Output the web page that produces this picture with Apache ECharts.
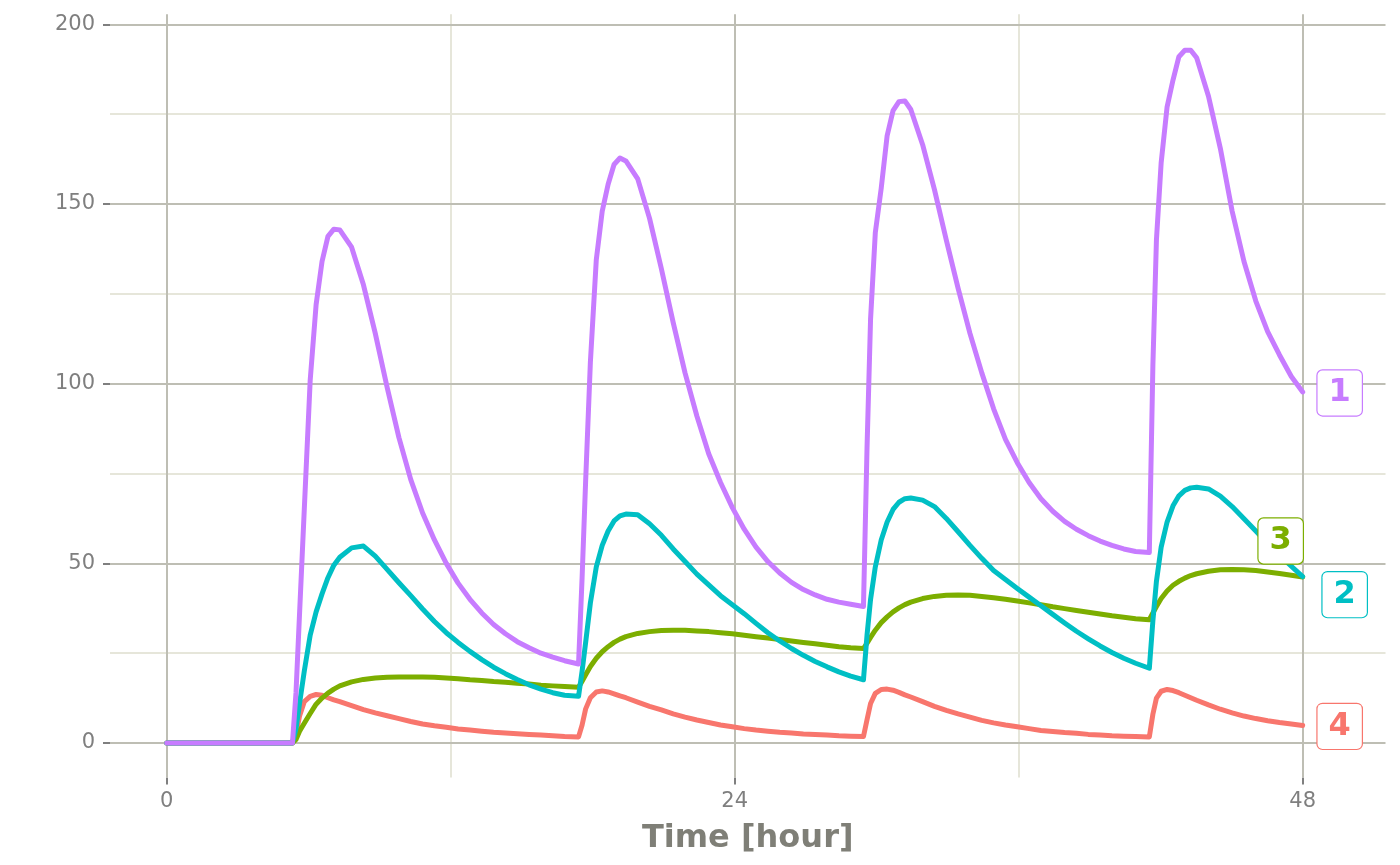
<!DOCTYPE html>
<html>
<head>
<meta charset="utf-8">
<script src="https://cdn.jsdelivr.net/npm/echarts@6/dist/echarts.min.js"></script>
<style>
html,body{margin:0;padding:0;background:#fff;}
#chart{width:1400px;height:865px;}
</style>
</head>
<body>
<div id="chart"></div>
<script>
// ---- data ----
const SERIES_NAMES = ['1', '2', '3', '4'];
const DOSES = [5.31, 17.4, 29.44, 41.52];            // hours
const OFFSETS = [0, 0.15, 0.3, 0.5, 0.75, 1, 1.25, 1.5, 1.75, 2, 2.5, 3, 3.5, 4, 4.5, 5, 5.5, 6, 6.5, 7, 7.5, 8, 8.5, 9, 9.5, 10, 10.5, 11, 11.5];
const T_END = 48;
const X_TICKS = [0, 24, 48];
const X_MINOR = [12, 36];
const Y_TICKS = [0, 50, 100, 150, 200];
const Y_MINOR = [25, 75, 125, 175];

// values: t=0, cycle1 (29), cycle2 (29), cycle3 (29), cycle4 (18), t=48
const S1 = [0,
  0, 14, 36, 65, 101, 122, 134, 141, 143, 142.8, 138, 127.5, 114, 99, 85, 73.3, 64, 56.5, 50, 44.5, 40, 36.2, 33, 30.4, 28.2, 26.5, 25, 23.9, 22.9,
  22, 46, 73, 106, 134.5, 148, 155.5, 161, 162.8, 162, 157, 146, 132, 117, 103, 91, 80.5, 72.5, 65.5, 59.5, 54.5, 50.5, 47.3, 44.7, 42.7, 41.2, 40, 39.2, 38.6,
  38, 82, 118, 142, 154.4, 169, 176, 178.5, 178.7, 176.3, 166.5, 154, 140, 126.5, 114, 103, 93, 84.5, 78, 72.5, 68, 64.5, 61.7, 59.5, 57.7, 56.2, 55, 54, 53.3,
  53, 105, 140, 161.5, 177, 184.5, 191, 192.8, 192.8, 190.7, 180, 165.5, 148, 134, 123, 114.5, 108, 102,
  97.7];
const S2 = [0,
  0, 4, 11, 20, 30, 36.5, 41.5, 46, 49.5, 51.7, 54.3, 54.8, 52, 48.3, 44.6, 41, 37.3, 33.8, 30.7, 28, 25.5, 23.2, 21.1, 19.3, 17.7, 16.2, 15, 14, 13.3,
  13, 20, 28, 39, 49, 55, 59, 61.8, 63.2, 63.7, 63.5, 61, 57.8, 54, 50.5, 47, 44, 41, 38.5, 36, 33.3, 30.7, 28.4, 26.3, 24.4, 22.7, 21.2, 19.8, 18.6,
  17.6, 30, 40, 49, 56.5, 61.5, 65, 67, 68, 68.2, 67.6, 65.8, 62.5, 58.8, 55, 51.4, 48, 45.5, 43, 40.6, 38.2, 35.8, 33.4, 31.1, 29, 27, 25.2, 23.6, 22.2,
  20.8, 34, 45, 54.5, 61.5, 66, 68.8, 70.3, 71, 71.2, 70.7, 68.7, 65.8, 62.4, 59, 55.5, 52.3, 49.2,
  46.3];
const S3 = [0,
  0, 1, 3.3, 5.5, 8.2, 10.8, 12.5, 13.9, 15, 15.9, 17, 17.7, 18.1, 18.3, 18.4, 18.4, 18.4, 18.3, 18.1, 17.9, 17.6, 17.4, 17.1, 16.9, 16.6, 16.4, 16.1, 15.9, 15.7,
  15.5, 17.2, 19, 21.3, 23.6, 25.4, 26.8, 28, 28.9, 29.6, 30.5, 31, 31.3, 31.4, 31.35, 31.2, 31, 30.7, 30.4, 30, 29.6, 29.2, 28.8, 28.4, 28, 27.6, 27.2, 26.8, 26.5,
  26.3, 27.8, 29.4, 31.4, 33.5, 35.1, 36.5, 37.6, 38.5, 39.2, 40.2, 40.8, 41.1, 41.2, 41.1, 40.8, 40.4, 40, 39.5, 39, 38.5, 37.9, 37.4, 36.9, 36.4, 35.9, 35.4, 35, 34.6,
  34.3, 36.2, 38, 40.2, 42.3, 43.9, 45, 45.9, 46.6, 47.1, 47.8, 48.2, 48.3, 48.2, 48, 47.6, 47.2, 46.7,
  46.2];
const S4 = [0,
  0, 2.5, 7.5, 11.5, 13, 13.5, 13.3, 12.6, 12, 11.5, 10.4, 9.3, 8.4, 7.6, 6.8, 6, 5.3, 4.8, 4.4, 3.9, 3.6, 3.3, 3, 2.8, 2.6, 2.4, 2.2, 2, 1.8,
  1.7, 5, 9.5, 12.6, 14.2, 14.5, 14.2, 13.7, 13.1, 12.6, 11.4, 10.2, 9.2, 8.1, 7.2, 6.4, 5.7, 5, 4.5, 4, 3.6, 3.3, 3, 2.8, 2.5, 2.4, 2.2, 2, 1.9,
  1.8, 6.5, 11, 13.8, 14.9, 15, 14.7, 14.1, 13.4, 12.8, 11.5, 10.2, 9.1, 8.1, 7.2, 6.3, 5.6, 5, 4.5, 4, 3.5, 3.2, 2.9, 2.7, 2.4, 2.2, 2, 1.9, 1.8,
  1.7, 8, 12.5, 14.4, 14.9, 14.6, 14, 13.3, 12.6, 11.9, 10.6, 9.4, 8.4, 7.5, 6.8, 6.2, 5.7, 5.3,
  4.9];

// ---- build sample times ----
const TIMES = [0];
DOSES.forEach((d, i) => {
  const next = i + 1 < DOSES.length ? DOSES[i + 1] : T_END;
  OFFSETS.forEach(o => { const t = +(d + o).toFixed(3); if (t < next) TIMES.push(t); });
});
TIMES.push(T_END);

// ---- styles ----
const COLORS = ['#C77CFF', '#00BFC4', '#7CAE00', '#F8766D'];
const LABEL_OFFSETS = [[37, 1], [42, 18], [-22, -36], [37, 1]];
const MAJOR = '#BEBEB4';
const MINOR = '#E6E6DA';
const TEXT = '#7F7F7F';
const FONT = 'DejaVu Sans';

const VALUES = [S1, S2, S3, S4];
const lineSeries = VALUES.map((vals, i) => ({
  name: SERIES_NAMES[i],
  type: 'line',
  data: TIMES.map((t, k) => [t, vals[k]]),
  showSymbol: false,
  symbol: 'none',
  z: 10 - i,
  lineStyle: { color: COLORS[i], width: 5, cap: 'round', join: 'round', opacity: 1 },
  itemStyle: { color: COLORS[i] },
  silent: true
}));
// draw order: 4 first (bottom) ... 1 last (top)
lineSeries.reverse();

const gridLines = [];
X_MINOR.forEach(v => gridLines.push({ xAxis: v, lineStyle: { color: MINOR, width: 2, type: 'solid' } }));
Y_MINOR.forEach(v => gridLines.push({ yAxis: v, lineStyle: { color: MINOR, width: 2, type: 'solid' } }));
X_TICKS.forEach(v => gridLines.push({ xAxis: v, lineStyle: { color: MAJOR, width: 2, type: 'solid' } }));
Y_TICKS.forEach(v => gridLines.push({ yAxis: v, lineStyle: { color: MAJOR, width: 2, type: 'solid' } }));

const gridSeries = {
  type: 'line', data: [], z: 1, silent: true,
  markLine: { silent: true, symbol: ['none', 'none'], z: 1, animation: false, label: { show: false }, data: gridLines }
};

const labelSeries = {
  type: 'scatter', z: 20, silent: true, symbolSize: 0,
  itemStyle: { opacity: 1 },
  data: VALUES.map((vals, i) => ({
    value: [T_END, vals[vals.length - 1]],
    name: SERIES_NAMES[i],
    itemStyle: { color: COLORS[i], opacity: 1 },
    label: {
      show: true, position: 'inside', formatter: SERIES_NAMES[i], opacity: 1,
      offset: LABEL_OFFSETS[i], color: COLORS[i], borderColor: COLORS[i],
      borderWidth: 1.2, borderRadius: 5, backgroundColor: '#ffffff',
      padding: [6, 11, 5, 11], fontSize: 32, lineHeight: 34, fontWeight: 'bold', fontFamily: FONT,
      align: 'center', verticalAlign: 'middle'
    }
  }))
};

const chart = echarts.init(document.getElementById('chart'), null, { renderer: 'canvas' });
chart.setOption({
  animation: false,
  backgroundColor: '#ffffff',
  grid: { left: 110, right: 14.5, top: 14.3, bottom: 87.5, containLabel: false, outerBoundsMode: 'none' },
  xAxis: {
    type: 'value', min: -2.4, max: 51.5,
    splitLine: { show: false },
    axisLine: { show: false, onZero: false },
    axisTick: { show: true, customValues: X_TICKS, length: 7, lineStyle: { color: TEXT, width: 2 } },
    axisLabel: { customValues: X_TICKS, fontSize: 21, color: TEXT, margin: 14, fontFamily: FONT },
    name: 'Time [hour]', nameLocation: 'middle', nameGap: 45,
    nameTextStyle: { fontSize: 32, fontWeight: 'bold', color: '#7F7F77', fontFamily: FONT }
  },
  yAxis: {
    type: 'value', min: -9.6, max: 202.8,
    splitLine: { show: false },
    axisLine: { show: false, onZero: false },
    axisTick: { show: true, customValues: Y_TICKS, length: 7, lineStyle: { color: TEXT, width: 2 } },
    axisLabel: { customValues: Y_TICKS, fontSize: 21, color: TEXT, margin: 15, fontFamily: FONT }
  },
  series: [gridSeries].concat(lineSeries, [labelSeries])
});
</script>
</body>
</html>
